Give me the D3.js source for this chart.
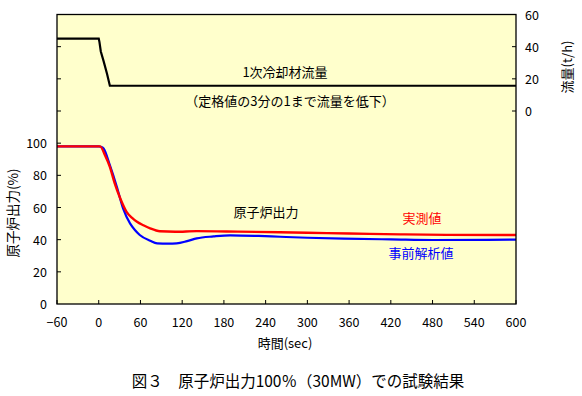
<!DOCTYPE html>
<html>
<head>
<meta charset="utf-8">
<script src="https://cdn.jsdelivr.net/npm/d3@7"></script>
<style>
  body { margin: 0; background: #fff; }
  text { font-family: "Noto Sans CJK JP", "DejaVu Sans", sans-serif; fill: #000; }
</style>
</head>
<body>
<div id="chart"></div>
<script>
// time axis (sec)
var xTicks = [-60, 0, 60, 120, 180, 240, 300, 360, 420, 480, 540, 600];
var powerTicks = [0, 20, 40, 60, 80, 100];
var flowTicks = [0, 20, 40, 60];

// 1次冷却材流量 (t/h)
var flowTime = [-60, 0, 1, 3, 7, 12, 16, 600];
var flowVal  = [45, 45, 43, 37, 31, 23, 15.7, 15.7];

// 実測値 (%)
var measTime = [-60, 0, 2, 9, 16, 23, 31, 40, 48, 55, 65, 74, 88, 110, 141, 200, 260, 300, 360, 434, 500, 600];
var measVal  = [98, 98, 98, 92.5, 85.3, 75, 65.6, 57.3, 53.5, 51.1, 48.8, 47, 45.2, 44.9, 45.3, 45, 44.6, 44.3, 43.8, 43.3, 43, 42.9];

// 事前解析値 (%)
var predTime = [-60, 0, 3, 7, 16, 26, 35, 45, 52, 59, 74, 84, 100, 112, 127, 141, 165, 189, 230, 261, 300, 352, 420, 481, 600];
var predVal  = [98, 98, 97.8, 96.7, 86.3, 72.9, 59.4, 50.1, 46, 42.9, 39.3, 37.7, 37.5, 37.7, 39.1, 40.8, 42, 42.7, 42.3, 41.8, 41.2, 40.6, 40.2, 39.8, 40];

var W = 582, H = 396;
var pLeft = 57, pRight = 516, pTop = 14.5, pBottom = 304;

var svg = d3.select("#chart").append("svg")
    .attr("width", W).attr("height", H);

var x = d3.scaleLinear().domain([-60, 600]).range([pLeft, pRight]);
var yP = d3.scaleLinear().domain([0, 180]).range([pBottom, pTop]);
var yF = d3.scaleLinear().domain([-120, 60]).range([pBottom, pTop]);

// plot background
svg.append("rect")
    .attr("x", pLeft).attr("y", pTop)
    .attr("width", pRight - pLeft).attr("height", pBottom - pTop)
    .attr("fill", "#ffffcc");

// ticks (inward)
var tickG = svg.append("g").attr("stroke", "#000").attr("stroke-width", 1);
xTicks.forEach(function(t){
    tickG.append("line").attr("x1", x(t)).attr("x2", x(t))
        .attr("y1", pBottom).attr("y2", pBottom - 4);
});
d3.range(20, 180, 20).forEach(function(v){
    tickG.append("line").attr("x1", pLeft).attr("x2", pLeft + 4)
        .attr("y1", yP(v)).attr("y2", yP(v));
});
[0, 20, 40].forEach(function(v){
    tickG.append("line").attr("x1", pRight).attr("x2", pRight - 4)
        .attr("y1", yF(v)).attr("y2", yF(v));
});

// tick labels
svg.selectAll(".xl").data(xTicks).enter().append("text")
    .attr("x", function(d){ return x(d); })
    .attr("y", 327)
    .attr("text-anchor", "middle")
    .attr("font-size", 12.5)
    .text(function(d){ return d < 0 ? "\u2212" + (-d) : d; });

svg.selectAll(".yl").data(powerTicks).enter().append("text")
    .attr("x", 47)
    .attr("y", function(d){ return yP(d) + 5; })
    .attr("text-anchor", "end")
    .attr("font-size", 12.5)
    .text(function(d){ return d; });

svg.selectAll(".fl").data(flowTicks).enter().append("text")
    .attr("x", 525)
    .attr("y", function(d){ return yF(d) + 5; })
    .attr("text-anchor", "start")
    .attr("font-size", 12.5)
    .text(function(d){ return d; });

// lines
function path(ts, vs, yScale, curve){
    return d3.line().curve(curve)(ts.map(function(t, i){ return [x(t), yScale(vs[i])]; }));
}
svg.append("path").attr("d", path(flowTime, flowVal, yF, d3.curveLinear))
    .attr("fill", "none").attr("stroke", "#000").attr("stroke-width", 2.2);
svg.append("path").attr("d", path(predTime, predVal, yP, d3.curveMonotoneX))
    .attr("fill", "none").attr("stroke", "#0000ff").attr("stroke-width", 2.2);
svg.append("path").attr("d", path(measTime, measVal, yP, d3.curveMonotoneX))
    .attr("fill", "none").attr("stroke", "#ff0000").attr("stroke-width", 2.4);

// frame
svg.append("rect")
    .attr("x", pLeft).attr("y", pTop)
    .attr("width", pRight - pLeft).attr("height", pBottom - pTop)
    .attr("fill", "none").attr("stroke", "#000").attr("stroke-width", 1.3);

// annotations
svg.append("text").attr("x", 285).attr("y", 77).attr("text-anchor", "middle")
    .attr("font-size", 13).text("1次冷却材流量");
svg.append("text").attr("x", 290).attr("y", 106).attr("text-anchor", "middle")
    .attr("font-size", 13).text("（定格値の3分の1まで流量を低下）");
svg.append("text").attr("x", 266).attr("y", 217).attr("text-anchor", "middle")
    .attr("font-size", 13).text("原子炉出力");
svg.append("text").attr("x", 422).attr("y", 223).attr("text-anchor", "middle")
    .attr("font-size", 13).style("fill", "#ff0000").text("実測値");
svg.append("text").attr("x", 421).attr("y", 258).attr("text-anchor", "middle")
    .attr("font-size", 13).style("fill", "#0000ff").text("事前解析値");

// axis titles
svg.append("text").attr("x", 285).attr("y", 348).attr("text-anchor", "middle")
    .attr("font-size", 13).text("時間(sec)");
svg.append("text").attr("transform", "translate(18,213) rotate(-90)")
    .attr("text-anchor", "middle").attr("font-size", 13.5).text("原子炉出力(%)");
svg.append("text").attr("transform", "translate(572,67) rotate(-90)")
    .attr("text-anchor", "middle").attr("font-size", 13).text("流量(t/h)");

// caption
svg.append("text").attr("x", 298).attr("y", 387).attr("text-anchor", "middle")
    .attr("font-size", 15.5).text("図３　原子炉出力100％（30MW）での試験結果");
</script>
</body>
</html>
